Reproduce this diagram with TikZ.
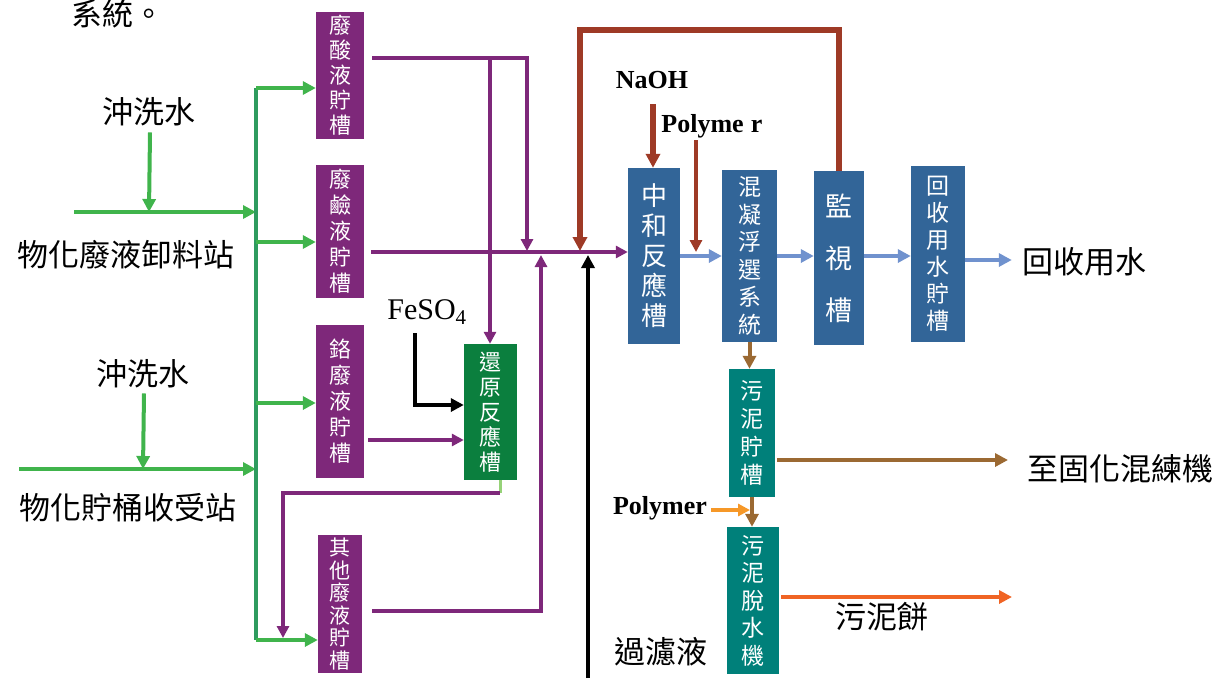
\documentclass[tikz,border=0pt]{standalone}
\usepackage{fontspec}
\setmainfont{Liberation Serif}
\newfontfamily\cjk{Noto Sans CJK TC}
\usetikzlibrary{arrows.meta,calc}
\definecolor{purp}{RGB}{126,40,122}
\definecolor{gbright}{RGB}{64,180,76}
\definecolor{gbus}{RGB}{46,155,95}
\definecolor{redbox}{RGB}{11,127,62}
\definecolor{bluebox}{RGB}{50,101,152}
\definecolor{lblue}{RGB}{112,146,206}
\definecolor{rbrown}{RGB}{158,58,38}
\definecolor{brownl}{RGB}{155,105,50}
\definecolor{tealbox}{RGB}{0,128,122}
\definecolor{orangel}{RGB}{246,152,40}
\definecolor{oranged}{RGB}{240,100,36}
\definecolor{stub}{RGB}{150,210,120}
\begin{document}
\begin{tikzpicture}[x=1pt,y=-1pt,
  tank/.style={inner sep=0pt, text=white, align=center},
  lab/.style={font=\cjk\fontsize{31}{31}\selectfont, inner sep=0pt},
  chem/.style={font=\bfseries\fontsize{26}{26}\selectfont, inner sep=0pt},
  garr/.style={draw=gbright, line width=4pt, -{Triangle[length=13pt,width=13pt]}},
  bus/.style={draw=gbus, line width=4.5pt},
  parr/.style={draw=purp, line width=4pt, -{Triangle[length=12pt,width=12pt]}},
  pline/.style={draw=purp, line width=4pt},
  karr/.style={draw=black, line width=4pt, -{Triangle[length=13pt,width=13pt]}},
  rarr/.style={draw=rbrown, line width=5.5pt, -{Triangle[length=14pt,width=14pt]}},
  rthin/.style={draw=rbrown, line width=3.5pt, -{Triangle[length=12pt,width=12pt]}},
  barr/.style={draw=lblue, line width=4pt, -{Triangle[length=13pt,width=13pt]}},
  brarr/.style={draw=brownl, line width=4pt, -{Triangle[length=13pt,width=13pt]}},
  oarr/.style={draw=orangel, line width=4pt, -{Triangle[length=12pt,width=12pt]}},
  odarr/.style={draw=oranged, line width=4pt, -{Triangle[length=13pt,width=13pt]}}
]
\useasboundingbox (0,0) rectangle (1226,678);

% ---------- texts ----------
\node[lab] (tsys) at (118,14) {系統。};
\node[lab] (wash1) at (149,112) {沖洗水};
\node[lab] (st1) at (126,255) {物化廢液卸料站};
\node[lab] (wash2) at (143,374) {沖洗水};
\node[lab] (st2) at (128,508) {物化貯桶收受站};
\node[lab] (trecw) at (1084,262) {回收用水};
\node[lab] (tsolid) at (1120,469) {至固化混練機};
\node[lab] (tcake) at (882,617) {污泥餅};
\node[lab] (tfilt) at (661,652) {過濾液};
\node[chem] (tnaoh) at (652,80) {NaOH};
\node[chem] (tpoly1) at (712,126) {Polyme\;r};
\node[chem] (tpoly2) at (660,508) {Polymer};
\node[font=\fontsize{30}{30}\selectfont, inner sep=0pt] (tfeso) at (427,312) {FeSO\textsubscript{4}};

% ---------- tanks ----------
\node[tank, fill=purp, minimum width=48pt, minimum height=127pt, font=\cjk\fontsize{22}{25}\selectfont] (b1) at (340,75.5) {廢\\酸\\液\\貯\\槽};
\node[tank, fill=purp, minimum width=48pt, minimum height=133pt, font=\cjk\fontsize{22}{26}\selectfont] (b2) at (340,231.5) {廢\\鹼\\液\\貯\\槽};
\node[tank, fill=purp, minimum width=48pt, minimum height=153pt, font=\cjk\fontsize{22}{26}\selectfont] (b3) at (340,401.5) {鉻\\廢\\液\\貯\\槽};
\node[tank, fill=purp, minimum width=44pt, minimum height=138pt, font=\cjk\fontsize{21}{22.5}\selectfont] (b4) at (340,604) {其\\他\\廢\\液\\貯\\槽};
\node[tank, fill=redbox, minimum width=53pt, minimum height=136pt, font=\cjk\fontsize{22}{25}\selectfont] (red) at (490.5,412) {還\\原\\反\\應\\槽};
\node[tank, fill=bluebox, minimum width=52pt, minimum height=176pt, font=\cjk\fontsize{26}{30}\selectfont] (neut) at (654,256) {中\\和\\反\\應\\槽};
\node[tank, fill=bluebox, minimum width=55pt, minimum height=172pt, font=\cjk\fontsize{23}{27.5}\selectfont] (coag) at (749.5,256) {混\\凝\\浮\\選\\系\\統};
\node[tank, fill=bluebox, minimum width=50pt, minimum height=174pt, font=\cjk\fontsize{27}{52}\selectfont] (mon) at (839,258) {監\\視\\槽};
\node[tank, fill=bluebox, minimum width=54pt, minimum height=176pt, font=\cjk\fontsize{23}{27}\selectfont] (rec) at (938,254) {回\\收\\用\\水\\貯\\槽};
\node[tank, fill=tealbox, minimum width=46pt, minimum height=128pt, font=\cjk\fontsize{23}{28}\selectfont] (sst) at (752,433) {污\\泥\\貯\\槽};
\node[tank, fill=tealbox, minimum width=52pt, minimum height=147pt, font=\cjk\fontsize{23}{27.5}\selectfont] (dew) at (753,600.5) {污\\泥\\脫\\水\\機};

% ---------- coordinates ----------
\coordinate (s1) at (74,212);
\coordinate (s2) at (19,469);
\coordinate (busTop) at (256,88);
\coordinate (br2) at (256,242);
\coordinate (br3) at (256,403);
\coordinate (busBot) at (256,640);
\coordinate (mS) at (371,252);
\coordinate (p1) at (372,58);
\coordinate (p2) at (527,58);
\coordinate (pv) at (490,58);
\coordinate (q1) at (368,440);
\coordinate (rb) at (500,480);
\coordinate (rb2) at (500,493);
\coordinate (ret) at (283,493);
\coordinate (o1) at (372,611);
\coordinate (o2) at (541,611);
\coordinate (f1) at (415,333);
\coordinate (f2) at (415,405);
\coordinate (fB) at (588,678);
\coordinate (loopL) at (580,30);
\coordinate (n1) at (653,104);
\coordinate (py1) at (696,140);
\coordinate (sol1) at (777,460);
\coordinate (sol2) at (1008,460);
\coordinate (pj) at (750,510);
\coordinate (ck1) at (781,597);
\coordinate (ck2) at (1012,597);

% ---------- green inflow ----------
\draw[garr] ($(wash1.south)+(1,6)$) -- (wash1.south |- s1);
\draw[garr] (s1) -- (s1 -| busTop);
\draw[garr] ($(wash2.south)+(1,5)$) -- (wash2.south |- s2);
\draw[garr] (s2) -- (s2 -| busTop);
\draw[bus] (busTop) -- (busBot);
\draw[garr] (busTop) -- (busTop -| b1.west);
\draw[garr] (br2) -- (br2 -| b2.west);
\draw[garr] (br3) -- (br3 -| b3.west);
\draw[garr] (busBot) -- (busBot -| b4.west);

% ---------- purple ----------
\draw[parr, shorten >=1pt] (p1) -- (p2) -- (p2 |- mS);
\draw[parr] (pv) -- (pv |- red.north);
\draw[parr] (mS) -- (mS -| neut.west);
\draw[parr] (q1) -- (q1 -| red.west);
\draw[draw=stub, line width=3pt] (rb) -- (rb2);
\draw[parr] (rb2) -- (ret) -- ($(ret |- busBot)+(0,-2)$);
\draw[parr, shorten >=3pt] (o1) -- (o2) -- (o2 |- mS);

% ---------- black ----------
\draw[karr] (f1) -- (f2) -- (f2 -| red.west);
\draw[karr, shorten >=3pt] (fB) -- (fB |- mS);

% ---------- red-brown ----------
\draw[rarr, shorten >=1pt] (mon.north) |- (loopL) -- (loopL |- mS);
\draw[rarr] (n1) -- (n1 |- neut.north);
\draw[rthin] (py1) -- (py1 |- mS);

% ---------- blue ----------
\draw[barr] (neut.east) -- (coag.west |- neut.east);
\draw[barr] (coag.east) -- (mon.west |- coag.east);
\draw[barr] (mon.east |- coag.east) -- (rec.west |- coag.east);
\draw[barr] ($(rec.east)+(0,6)$) -- ($(trecw.west |- rec.east)+(-10,6)$);

% ---------- sludge ----------
\draw[brarr] (coag.south) -- (coag.south |- sst.north);
\draw[brarr] (sol1) -- (sol2);
\draw[brarr] (sst.south) -- (sst.south |- dew.north);
\draw[oarr] ($(tpoly2.east)+(4,2)$) -- (pj);
\draw[odarr] (ck1) -- (ck2);
\end{tikzpicture}
\end{document}
